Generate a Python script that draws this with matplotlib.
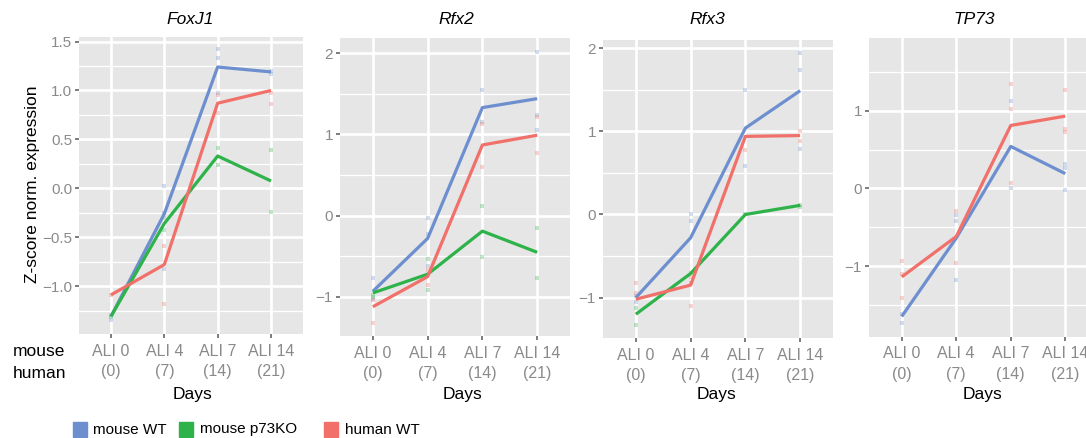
import numpy as np
import matplotlib.pyplot as plt
from matplotlib.patches import Rectangle

plt.rcParams['font.family'] = ['Liberation Sans', 'DejaVu Sans']

# data
genes = ['FoxJ1', 'Rfx2', 'Rfx3', 'TP73']
tick_labels = ['ALI 0\n(0)', 'ALI 4\n(7)', 'ALI 7\n(14)', 'ALI 14\n(21)']
groups = ['mouse WT', 'mouse p73KO', 'human WT']
colors = {'mouse WT': '#6D8FCF', 'mouse p73KO': '#2EB24A', 'human WT': '#F1706A'}

# mean lines per gene
mouse_wt = {
    'FoxJ1': [-1.31, -0.26, 1.24, 1.19],
    'Rfx2': [-0.93, -0.28, 1.33, 1.44],
    'Rfx3': [-1.00, -0.28, 1.04, 1.49],
    'TP73': [-1.65, -0.64, 0.54, 0.19],
}
mouse_ko = {
    'FoxJ1': [-1.31, -0.36, 0.33, 0.075],
    'Rfx2': [-0.95, -0.72, -0.19, -0.45],
    'Rfx3': [-1.20, -0.71, 0.00, 0.11],
}
human_wt = {
    'FoxJ1': [-1.09, -0.78, 0.87, 1.00],
    'Rfx2': [-1.12, -0.75, 0.87, 0.99],
    'Rfx3': [-1.02, -0.85, 0.94, 0.95],
    'TP73': [-1.14, -0.62, 0.81, 0.93],
}

# replicate points (timepoint index, value)
pts_mouse_wt = {
    'FoxJ1': [(0, -1.35), (0, -1.30), (1, 0.02), (1, -0.83), (1, -0.25), (2, 1.42), (2, 1.33), (2, 0.97), (3, 1.20), (3, 1.17)],
    'Rfx2': [(0, -0.77), (0, -1.02), (1, -0.03), (1, -0.22), (1, -0.62), (2, 1.55), (2, 1.15), (3, 2.02), (3, 1.24), (3, 1.05)],
    'Rfx3': [(0, -1.05), (0, -0.98), (1, 0.00), (1, -0.08), (1, -0.82), (2, 1.50), (2, 0.58), (3, 1.94), (3, 1.74), (3, 0.79)],
    'TP73': [(0, -1.62), (0, -1.73), (1, -0.34), (1, -0.42), (1, -1.18), (2, 1.12), (2, 0.01), (3, 0.32), (3, 0.26), (3, -0.02)],
}
pts_mouse_ko = {
    'FoxJ1': [(0, -1.32), (1, -0.43), (1, -0.30), (2, 0.41), (2, 0.24), (3, 0.39), (3, -0.24)],
    'Rfx2': [(0, -0.98), (0, -1.00), (1, -0.53), (1, -0.92), (2, 0.12), (2, -0.51), (3, -0.15), (3, -0.77)],
    'Rfx3': [(0, -1.12), (0, -1.33), (1, -0.70), (2, 0.01), (3, 0.12), (3, 0.09)],
}
pts_human_wt = {
    'FoxJ1': [(0, -1.09), (1, -0.59), (1, -1.18), (2, 0.95), (2, 0.77), (3, 0.97), (3, 0.86)],
    'Rfx2': [(0, -1.04), (0, -1.32), (1, -0.67), (1, -0.85), (2, 1.13), (2, 0.60), (3, 1.21), (3, 0.77)],
    'Rfx3': [(0, -0.83), (0, -0.95), (1, -1.10), (1, -0.75), (2, 0.78), (3, 1.00), (3, 0.88)],
    'TP73': [(0, -0.93), (0, -1.10), (0, -1.41), (1, -0.29), (1, -0.96), (2, 1.35), (2, 1.02), (2, 0.07), (3, 1.27), (3, 0.77), (3, 0.73)],
}

means = {'mouse WT': mouse_wt, 'mouse p73KO': mouse_ko, 'human WT': human_wt}
points = {'mouse WT': pts_mouse_wt, 'mouse p73KO': pts_mouse_ko, 'human WT': pts_human_wt}

# axis settings per panel
ylims = {'FoxJ1': (-1.49, 1.55), 'Rfx2': (-1.48, 2.19), 'Rfx3': (-1.49, 2.10), 'TP73': (-1.91, 1.94)}
yticks = {'FoxJ1': [-1.0, -0.5, 0.0, 0.5, 1.0, 1.5], 'Rfx2': [-1, 0, 1, 2], 'Rfx3': [-1, 0, 1, 2], 'TP73': [-1, 0, 1]}
ytick_fmt = {'FoxJ1': '{:.1f}', 'Rfx2': '{:d}', 'Rfx3': '{:d}', 'TP73': '{:d}'}

W, H = 1086, 438
# panel boxes in pixels: left, right, top, bottom
boxes = {'FoxJ1': (79, 303, 36.7, 334), 'Rfx2': (340, 570, 37.7, 336),
         'Rfx3': (603, 833, 40, 338.3), 'TP73': (869, 1098, 37.7, 336.7)}
title_x = {'FoxJ1': 190, 'Rfx2': 456, 'Rfx3': 707, 'TP73': 974}
days_x = {'FoxJ1': 193, 'Rfx2': 462, 'Rfx3': 716, 'TP73': 983}

fig = plt.figure(figsize=(W / 100, H / 100), dpi=100)

grey = '#8A8A8A'
for g in genes:
    l, r, t, b = boxes[g]
    ax = fig.add_axes([l / W, 1 - b / H, (r - l) / W, (b - t) / H])
    ax.set_facecolor('#E5E6E5')
    for s in ax.spines.values():
        s.set_visible(False)
    x = np.arange(len(tick_labels))
    ax.set_xlim(-0.6, 3.6)
    ax.set_ylim(*ylims[g])

    # grid: major + minor at midpoints
    ticks = yticks[g]
    step = ticks[1] - ticks[0]
    minors = [v + step / 2 for v in [ticks[0] - step] + list(ticks)]
    for v in minors:
        ax.axhline(v, color='white', lw=0.9, zorder=0)
    for v in ticks:
        ax.axhline(v, color='white', lw=1.9, zorder=0)
    for xv in x:
        ax.axvline(xv, color='white', lw=1.9, zorder=0)

    for grp in groups:
        if g not in means[grp]:
            continue
        c = colors[grp]
        px = [p[0] for p in points[grp][g]]
        py = [p[1] for p in points[grp][g]]
        ax.scatter(px, py, marker='s', s=6, color=c, alpha=0.3, linewidths=0, zorder=2)
        ax.plot(x, means[grp][g], color=c, lw=2.3, zorder=3, solid_capstyle='butt')

    ax.set_xticks(x)
    ax.set_xticklabels(tick_labels, fontsize=11.5, color=grey, linespacing=1.45)
    ax.set_yticks(ticks)
    ax.set_yticklabels([ytick_fmt[g].format(v).replace('-', '\u2212') for v in ticks],
                       fontsize=11, color=grey)
    ax.tick_params(length=3, width=1.2, color='#666666', pad=2)
    ax.tick_params(axis='x', pad=4)
    ax.set_axisbelow(True)

    fig.text(title_x[g] / W, 1 - 20 / H, g, ha='center', va='center',
             fontsize=12.5, style='italic')
    fig.text(days_x[g] / W, 1 - 394 / H, 'Days', ha='center', va='center', fontsize=12.5)

fig.text(33 / W, 1 - 184 / H, 'Z-score norm. expression', rotation=90,
         ha='center', va='center', fontsize=12.5)
fig.text(13 / W, 1 - 352 / H, 'mouse', ha='left', va='center', fontsize=12.5)
fig.text(13 / W, 1 - 373 / H, 'human', ha='left', va='center', fontsize=12.5)

# legend
leg_sq = [73, 179, 324]
leg_tx = [93, 200, 345]
for grp, sx, tx in zip(groups, leg_sq, leg_tx):
    fig.add_artist(Rectangle((sx / W, 1 - 436.5 / H), 14 / W, 14.5 / H,
                             transform=fig.transFigure, color=colors[grp]))
    fig.text(tx / W, 1 - 429.5 / H, grp, ha='left', va='center', fontsize=11)

fig.savefig('out.png', dpi=100)
